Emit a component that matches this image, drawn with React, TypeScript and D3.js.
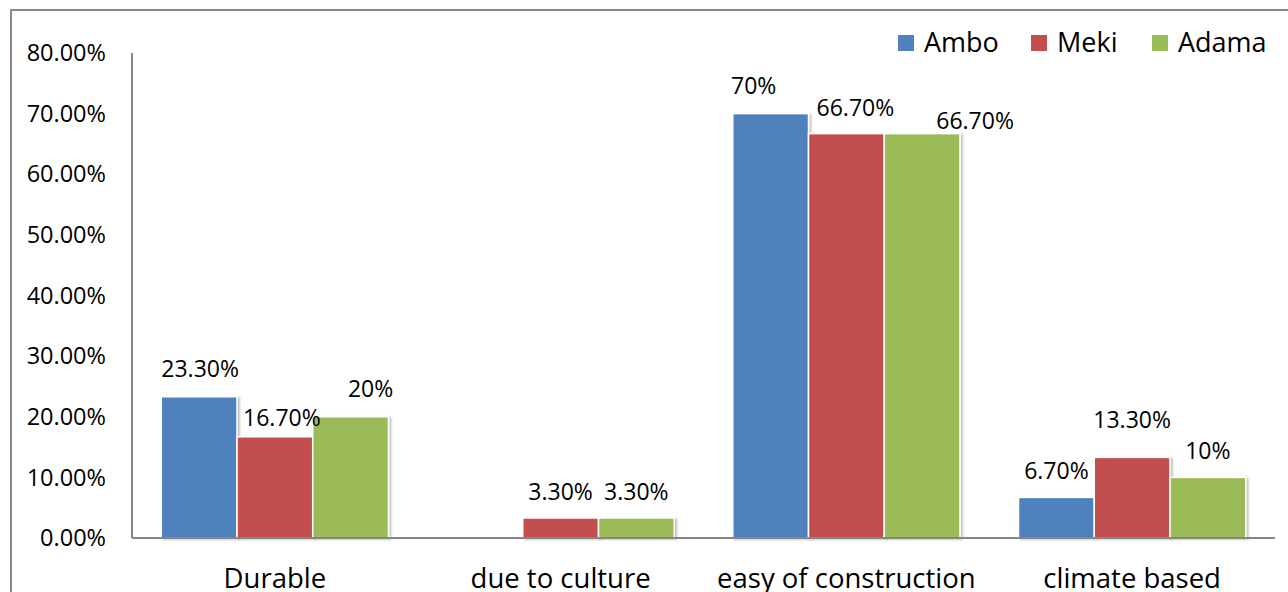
import React from "react";
import * as d3 from "d3";

const categories = ["Durable", "due to culture", "easy of construction", "climate based"];
const seriesNames = ["Ambo", "Meki", "Adama"];
const ambo = [23.3, 0, 70, 6.7];
const meki = [16.7, 3.3, 66.7, 13.3];
const adama = [20, 3.3, 66.7, 10];
const labelsAmbo = ["23.30%", "", "70%", "6.70%"];
const labelsMeki = ["16.70%", "3.30%", "66.70%", "13.30%"];
const labelsAdama = ["20%", "3.30%", "66.70%", "10%"];
const yTicks = [0, 10, 20, 30, 40, 50, 60, 70, 80];

const colors = ["#4F81BD", "#C0504D", "#9BBB59"];
// label nudges [dx, dy] relative to default position (bar centre, above bar)
const labelNudges: [number, number][][] = [
  [[1, -2], [7, 7], [20, -2]],
  [[0, 0], [0, 0], [0, 0]],
  [[-17, -2], [9, 0], [53, 13]],
  [[0, 0], [0, -11], [0, 0]],
];

const W = 1288;
const H = 592;
const FONT = "'Open Sans', 'Noto Sans', sans-serif";

export default function App() {
  const left = 132;
  const right = 1275;
  const top = 53;
  const bottom = 538;

  const x0 = d3.scaleBand<string>().domain(categories).range([left, right]).paddingInner(0.205).paddingOuter(0.1025);
  const x1 = d3.scaleBand<string>().domain(seriesNames).range([0, x0.bandwidth()]).padding(0);
  const y = d3.scaleLinear().domain([0, 80]).range([bottom, top]);

  const values = [ambo, meki, adama];
  const labels = [labelsAmbo, labelsMeki, labelsAdama];

  return (
    <svg width={W} height={H} style={{ position: "absolute", left: 0, top: 0, background: "#fff" }} fontFamily={FONT}>
      <defs>
        <filter id="sh" x="-10%" y="-10%" width="130%" height="130%">
          <feDropShadow dx="2" dy="1" stdDeviation="1.2" floodColor="#000" floodOpacity="0.25" />
        </filter>
      </defs>
      <rect x={0} y={0} width={W} height={H} fill="#fff" />
      {/* outer chart border */}
      <path d={`M11,${H + 2} V10 H${W + 2}`} fill="none" stroke="#898989" strokeWidth={2} />

      {/* y axis labels */}
      {yTicks.map((t) => (
        <text key={t} x={106} y={y(t)} dy="0.35em" textAnchor="end" fontSize={23.5} fill="#000">
          {t.toFixed(2) + "%"}
        </text>
      ))}

      {/* bars */}
      {categories.map((c, ci) => (
        <g key={c}>
          {seriesNames.map((s, si) => {
            const v = values[si][ci];
            if (v <= 0) return null;
            const bx = (x0(c) as number) + (x1(s) as number);
            return (
              <rect
                key={s}
                x={bx}
                y={y(v)}
                width={x1.bandwidth()}
                height={bottom - y(v)}
                fill={colors[si]}
                stroke="#fff"
                strokeWidth={1.5}
                filter="url(#sh)"
              />
            );
          })}
        </g>
      ))}

      {/* axes */}
      <line x1={left} x2={left} y1={top} y2={bottom} stroke="#868686" strokeWidth={2} />
      <line x1={left} x2={right} y1={bottom} y2={bottom} stroke="#868686" strokeWidth={2} />

      {/* data labels */}
      {categories.map((c, ci) => (
        <g key={"l" + c}>
          {seriesNames.map((s, si) => {
            const txt = labels[si][ci];
            if (!txt) return null;
            const v = values[si][ci];
            const cx = (x0(c) as number) + (x1(s) as number) + x1.bandwidth() / 2;
            const [dx, dy] = labelNudges[ci][si];
            return (
              <text key={s} x={cx + dx} y={y(v) - 26 + dy} dy="0.35em" textAnchor="middle" fontSize={23} fill="#000">
                {txt}
              </text>
            );
          })}
        </g>
      ))}

      {/* category labels */}
      {categories.map((c) => (
        <text key={"c" + c} x={(x0(c) as number) + x0.bandwidth() / 2} y={578} dy="0.35em" textAnchor="middle" fontSize={27.5} fill="#000">
          {c}
        </text>
      ))}

      {/* legend */}
      {seriesNames.map((s, si) => {
        const lx = [898, 1031, 1152][si];
        return (
          <g key={"lg" + s}>
            <rect x={lx} y={35} width={16} height={16} fill={colors[si]} />
            <text x={lx + 26} y={43} dy="0.35em" fontSize={27} fill="#000">
              {s}
            </text>
          </g>
        );
      })}
    </svg>
  );
}
